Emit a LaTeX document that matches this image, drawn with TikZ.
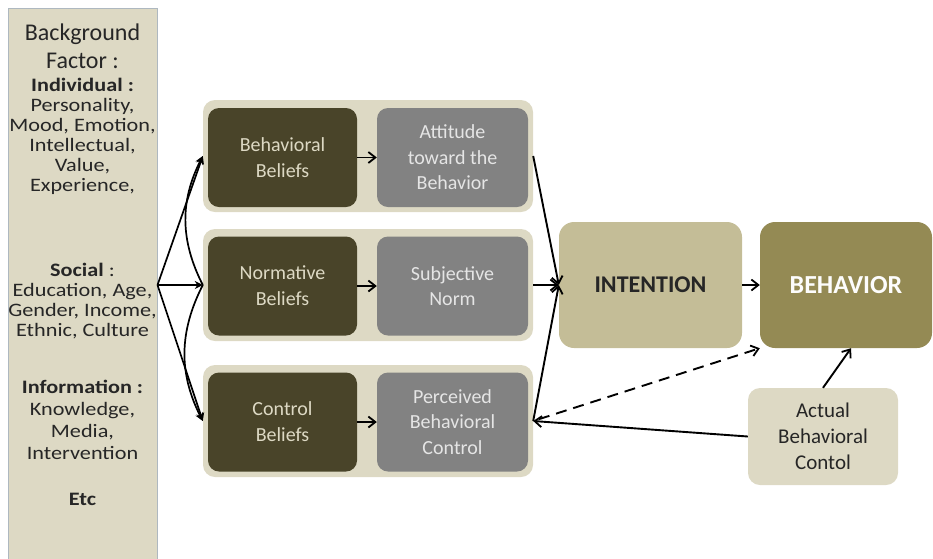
\documentclass[tikz,border=0pt]{standalone}
\usepackage{fontspec}
\setmainfont{Carlito}
\newfontfamily\widecarlito[FakeStretch=1.17]{Carlito}
\usepackage{tikz}
\usetikzlibrary{arrows.meta, positioning, calc}

\definecolor{tanlight}{HTML}{DDD9C4}
\definecolor{tanmid}{HTML}{C4BD97}
\definecolor{tandark}{HTML}{948A54}
\definecolor{olivedark}{HTML}{494429}
\definecolor{greybox}{HTML}{828282}
\definecolor{bgedge}{HTML}{AEB8C0}
\definecolor{inkdark}{HTML}{262626}

\begin{document}
\begin{tikzpicture}[x=1pt, y=-1pt,
    bgbox/.style={draw=bgedge, line width=1pt, fill=tanlight, minimum width=149pt, minimum height=570pt},
    bgtext/.style={text=inkdark, align=center, inner sep=0pt, font=\widecarlito\fontsize{19}{20}\selectfont},
    panel/.style={fill=tanlight, rounded corners=12pt, minimum width=330pt, minimum height=112pt},
    belief/.style={fill=olivedark, text=tanlight, rounded corners=11pt, minimum width=149pt, minimum height=99pt, align=center, font=\fontsize{20}{26}\selectfont},
    percept/.style={fill=greybox, text=white!90!black, rounded corners=11pt, minimum width=151pt, minimum height=99pt, align=center, font=\fontsize{20}{25.5}\selectfont},
    bigbox/.style={rounded corners=15pt, minimum width=183pt, minimum height=126pt, align=center},
    arr/.style={-{Straight Barb[length=7pt,width=11pt,line width=1.8pt]}, line width=1.9pt, black},
    fanarr/.style={-{Stealth[length=8pt,width=8pt]}, line width=1.7pt, black}
]
\useasboundingbox (0,0) rectangle (933,558);

% background factors column
\node[bgbox] (factor) at (82.5,293) {};
\node[bgtext, font=\fontsize{24}{28}\selectfont] (bgtitle) at (82.5,46) {Background\\Factor :};
\node[bgtext] (indiv) at (82.5,136) {\textbf{Individual :}\\Personality,\\Mood, Emotion,\\Intellectual,\\Value,\\Experience,};
\node[bgtext] (social) at (82.5,301) {\textbf{Social} :\\Education, Age,\\Gender, Income,\\Ethnic, Culture};
\node[bgtext, font=\widecarlito\fontsize{19}{22}\selectfont] (info) at (82.5,420) {\textbf{Information :}\\Knowledge,\\Media,\\Intervention};
\node[bgtext] (etc) at (82.5,499) {\textbf{Etc}};

% belief panels
\node[panel] (toppanel) at (368,156) {};
\node[panel] (midpanel) at (368,285) {};
\node[panel] (botpanel) at (368,421) {};

\node[belief] (bbelief) at (282.5,157.5) {Behavioral\\Beliefs};
\node[percept] (attitude) at (452.5,157.5) {Attitude\\toward the\\Behavior};
\node[belief] (nbelief) at (282.5,286) {Normative\\Beliefs};
\node[percept] (subnorm) at (452.5,286) {Subjective\\Norm};
\node[belief] (cbelief) at (282.5,422) {Control\\Beliefs};
\node[percept] (pbc) at (452.5,422) {Perceived\\Behavioral\\Control};

% outcome boxes
\node[bigbox, fill=tanmid, text=inkdark, font=\fontsize{24}{28}\selectfont\bfseries] (intention) at (650.5,285) {INTENTION};
\node[bigbox, fill=tandark, text=white!95!tanlight, minimum width=172pt, font=\fontsize{26}{30}\selectfont\bfseries] (behavior) at (846,285) {BEHAVIOR};
\node[fill=tanlight, text=inkdark, rounded corners=12pt, minimum width=150pt, minimum height=97pt, align=center, font=\fontsize{21}{26}\selectfont] (actual) at (823,436.5) {Actual\\Behavioral\\Contol};

% fan from background factors
\coordinate (fan) at (factor.east |- midpanel.west);
\draw[fanarr] (fan) -- (toppanel.west);
\draw[fanarr] (fan) -- (midpanel.west);
\draw[fanarr] (fan) -- (botpanel.west);
\draw[fanarr] (midpanel.west) to[bend left=27] (toppanel.west);
\draw[fanarr] (midpanel.west) to[bend right=27] (botpanel.west);

% inner arrows
\draw[arr] (bbelief) -- (attitude);
\draw[arr] (nbelief) -- (subnorm);
\draw[arr] (cbelief) -- (pbc);

% towards intention and behavior
\draw[arr] (toppanel.east) -- (intention.west);
\draw[arr] (midpanel.east) -- (intention.west);
\draw[arr] (botpanel.east) -- (intention.west);
\draw[arr] (intention) -- (behavior);
\draw[arr] (actual.west) -- (botpanel.east);
\draw[arr, dash pattern=on 11pt off 7pt, shorten <=6pt] (botpanel.east) -- (behavior.south west);
\draw[arr] (actual.north) -- ([xshift=5pt]behavior.south);
\end{tikzpicture}
\end{document}
